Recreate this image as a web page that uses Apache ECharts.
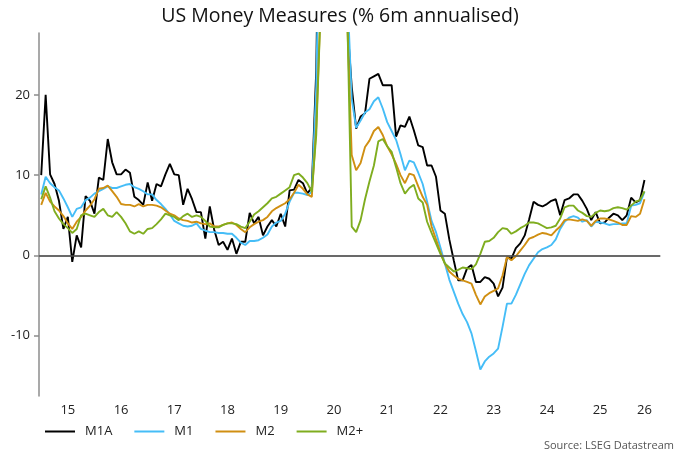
<!DOCTYPE html>
<html>
<head>
<meta charset="utf-8">
<script src="https://cdn.jsdelivr.net/npm/echarts@6/dist/echarts.min.js"></script>
<style>
  html, body { margin: 0; padding: 0; background: #fff; }
  #chart { width: 680px; height: 454px; }
</style>
</head>
<body>
<div id="chart"></div>
<script>
// monthly categories, Jan 2015 .. Aug 2026 (axis runs a little past the data)
const months = []
for (let y = 2015; y <= 2026; y++) {
  for (let m = 1; m <= 12; m++) {
    if (y === 2026 && m > 8) break
    months.push(y + '-' + (m < 10 ? '0' + m : m))
  }
}

// where the year labels sit and where the year ticks go
const labelMonths = ['2015-07', '2016-07', '2017-07', '2018-07', '2019-07', '2020-07',
  '2021-07', '2022-07', '2023-07', '2024-07', '2025-07', '2026-05']
const yTicks = [-10, 0, 10, 20]

// % 6m annualised, Jan 2015 .. May 2026
const m1a = [
  10.0, 20.0, 10.1, 8.9, 6.8, 3.3, 4.8, -0.8, 2.5, 1.0, 7.4, 6.8,
  5.2, 9.7, 9.4, 14.5, 11.6, 10.1, 10.1, 10.7, 10.3, 7.3, 6.9, 6.3,
  9.1, 6.8, 8.9, 8.6, 10.1, 11.4, 10.1, 10.0, 6.3, 8.3, 7.0, 5.4,
  5.4, 2.1, 6.1, 3.2, 1.3, 1.7, 0.7, 2.1, 0.2, 1.7, 1.7, 5.3,
  4.0, 4.8, 2.5, 3.6, 4.4, 3.6, 5.2, 3.6, 8.1, 8.2, 9.4, 9.0,
  7.7, 8.5, 23, 60, 110, 140, 130, 100, 70, 29, 21, 15.8,
  17.3, 17.7, 22.0, 22.3, 22.6, 21.2, 21.2, 21.2, 14.8, 16.2, 16.0, 17.3,
  15.6, 13.7, 13.5, 11.2, 11.2, 9.8, 5.6, 5.2, 2.0, -0.6, -3.1, -3.1,
  -1.6, -1.2, -3.3, -3.3, -2.7, -2.9, -3.5, -5.1, -4.0, -0.2, -0.4, 0.9,
  1.5, 2.5, 4.5, 6.7, 6.3, 6.1, 6.4, 6.8, 7.0, 5.0, 6.9, 7.1,
  7.6, 7.6, 6.8, 5.8, 4.4, 5.4, 4.0, 4.1, 4.7, 5.2, 5.0, 4.4,
  5.0, 7.2, 6.6, 6.9, 9.4
]
const m1 = [
  7.6, 9.8, 9.0, 8.5, 8.1, 7.1, 6.0, 4.8, 5.8, 6.0, 6.9, 7.2,
  7.7, 8.0, 8.3, 8.6, 8.4, 8.4, 8.6, 8.8, 8.9, 8.5, 8.3, 8.0,
  7.6, 7.6, 6.9, 6.4, 5.8, 5.1, 4.3, 4.0, 3.7, 3.6, 3.7, 4.0,
  3.3, 3.1, 2.9, 2.9, 2.8, 2.8, 2.7, 2.7, 2.2, 1.6, 1.3, 1.8,
  1.8, 1.9, 2.2, 2.6, 3.6, 4.1, 4.3, 5.2, 6.7, 7.8, 7.8, 7.7,
  7.5, 7.9, 21, 50, 150, 250, 250, 200, 120, 33, 19.5, 15.9,
  16.8, 17.8, 18.2, 19.2, 19.7, 18.3, 16.6, 15.5, 14.4, 12.6, 10.6, 11.8,
  11.6, 10.3, 8.9, 6.7, 4.3, 2.9, 1.0, -1.0, -3.0, -4.5, -6.0, -7.3,
  -8.3, -9.7, -11.9, -14.2, -13.2, -12.6, -12.2, -11.6, -8.9, -6.0, -6.0, -4.9,
  -3.6, -2.3, -1.2, -0.4, 0.4, 0.8, 1.0, 1.3, 2.0, 3.3, 4.2, 4.7,
  4.9, 4.7, 4.2, 4.4, 3.6, 4.2, 4.1, 4.0, 3.8, 3.9, 3.9, 4.0,
  4.0, 6.2, 6.3, 6.5, 7.9
]
const m2 = [
  6.3, 7.8, 6.7, 6.1, 5.6, 4.9, 4.0, 3.3, 4.2, 4.8, 5.6, 6.2,
  7.0, 8.3, 8.4, 8.7, 8.0, 7.3, 6.4, 6.3, 6.3, 6.1, 6.4, 6.1,
  6.3, 6.3, 6.2, 6.0, 5.6, 5.2, 5.0, 4.6, 4.4, 4.3, 4.1, 4.2,
  4.0, 3.9, 4.0, 3.6, 3.6, 3.8, 4.0, 4.1, 3.8, 3.3, 2.9, 3.5,
  3.9, 4.2, 4.4, 4.8, 5.5, 5.9, 6.2, 6.5, 7.0, 7.8, 8.8, 8.3,
  7.6, 7.3, 16, 31, 60, 80, 80, 70, 55, 29, 12.5, 10.6,
  11.5, 13.5, 14.3, 15.5, 16.0, 15.0, 13.6, 12.6, 11.4, 10.0, 9.0, 10.2,
  10.0, 8.6, 7.3, 6.3, 3.6, 2.0, 0.4, -1.0, -2.0, -2.5, -2.9, -3.1,
  -3.3, -3.5, -4.9, -6.1, -5.1, -4.7, -4.4, -4.1, -2.5, -0.2, -0.6, -0.1,
  0.6, 1.3, 2.1, 2.3, 2.6, 2.8, 2.7, 2.5, 3.1, 3.6, 4.4, 4.5,
  4.4, 4.3, 4.5, 4.3, 3.7, 4.3, 4.6, 4.6, 4.5, 4.3, 4.1, 3.8,
  3.8, 4.9, 4.8, 5.2, 7.0
]
const m2plus = [
  7.0, 8.6, 7.2, 5.5, 4.6, 3.9, 3.4, 2.8, 3.3, 5.0, 5.2, 5.0,
  4.8, 5.4, 5.8, 5.0, 4.8, 5.4, 4.8, 4.0, 3.0, 2.7, 3.0, 2.7,
  3.3, 3.4, 3.9, 4.5, 5.2, 5.0, 4.8, 4.4, 4.9, 5.2, 4.8, 5.0,
  4.8, 4.3, 3.6, 3.5, 3.5, 3.8, 4.0, 4.0, 3.9, 3.6, 3.4, 4.2,
  5.1, 5.5, 6.0, 6.5, 7.1, 7.3, 7.7, 8.1, 8.5, 10.0, 10.2, 9.7,
  9.0, 7.9, 15, 31, 50, 60, 60, 55, 45, 30, 3.6, 2.9,
  4.4, 7.0, 9.2, 11.2, 14.2, 14.5, 13.6, 12.9, 11.0, 9.0, 7.7, 8.4,
  8.8, 7.1, 6.6, 4.2, 2.8, 1.5, 0.2, -1.0, -1.5, -2.0, -1.8, -1.5,
  -1.6, -1.7, -1.1, 0.2, 1.7, 1.8, 2.2, 2.9, 3.4, 3.3, 2.7, 3.0,
  3.4, 3.7, 4.1, 4.1, 4.0, 3.7, 3.4, 3.5, 3.7, 4.6, 6.0, 6.2,
  6.2, 5.6, 5.3, 4.9, 4.8, 5.3, 5.6, 5.5, 5.6, 5.9, 6.0, 5.9,
  5.7, 6.2, 6.7, 6.9, 8.0
]

const font = 'Open Sans'
const axisGrey = '#8c8c8c'

const chart = echarts.init(document.getElementById('chart'))

function line(name, data, color) {
  return {
    name: name,
    type: 'line',
    data: data,
    showSymbol: false,
    symbol: 'none',
    clip: true,
    lineStyle: { color: color, width: 1.9 },
    itemStyle: { color: color }
  }
}

const series = [
  line('M1A', m1a, '#000000'),
  line('M1', m1, '#45bdf7'),
  line('M2', m2, '#d08f12'),
  line('M2+', m2plus, '#7fad1f')
]
// zero reference line
series[0].markLine = {
  silent: true,
  symbol: 'none',
  label: { show: false },
  lineStyle: { color: '#555555', width: 1.5, type: 'solid' },
  data: [{ yAxis: 0 }]
}

chart.setOption({
  animation: false,
  title: {
    text: 'US Money Measures (% 6m annualised)',
    left: 'center',
    top: 1,
    textStyle: { fontFamily: font, fontSize: 19.5, fontWeight: 'normal', color: '#111' }
  },
  grid: { left: 39, right: 20, top: 33, bottom: 58, containLabel: false },
  legend: {
    left: 40,
    top: 420,
    icon: 'rect',
    itemWidth: 30,
    itemHeight: 2,
    itemGap: 22,
    textStyle: { fontFamily: font, fontSize: 13, color: '#222', padding: [0, 0, 0, 5] },
    data: ['M1A', 'M1', 'M2', 'M2+']
  },
  graphic: [{
    type: 'text',
    right: 6,
    top: 440,
    style: { text: 'Source: LSEG Datastream', fill: '#555', font: '11px "Open Sans"' }
  }],
  xAxis: {
    type: 'category',
    data: months,
    boundaryGap: true,
    axisLine: { lineStyle: { color: axisGrey, width: 1.5 } },
    axisTick: {
      interval: function (i) { return i % 12 === 0 },
      length: 5,
      lineStyle: { color: axisGrey, width: 1.5 }
    },
    axisLabel: {
      interval: function (i, v) { return labelMonths.indexOf(v) >= 0 },
      formatter: function (v) { return v.slice(2, 4) },
      fontFamily: font,
      fontSize: 13,
      color: '#222',
      margin: 8
    },
    splitLine: { show: false }
  },
  yAxis: {
    type: 'value',
    min: -17.5,
    max: 27.7,
    axisLine: { show: true, lineStyle: { color: axisGrey, width: 1.5 } },
    axisTick: { show: true, length: 5, customValues: yTicks, lineStyle: { color: axisGrey, width: 1.5 } },
    axisLabel: { customValues: yTicks, fontFamily: font, fontSize: 13, color: '#222', margin: 9 },
    splitLine: { show: false }
  },
  series: series
})
</script>
</body>
</html>
